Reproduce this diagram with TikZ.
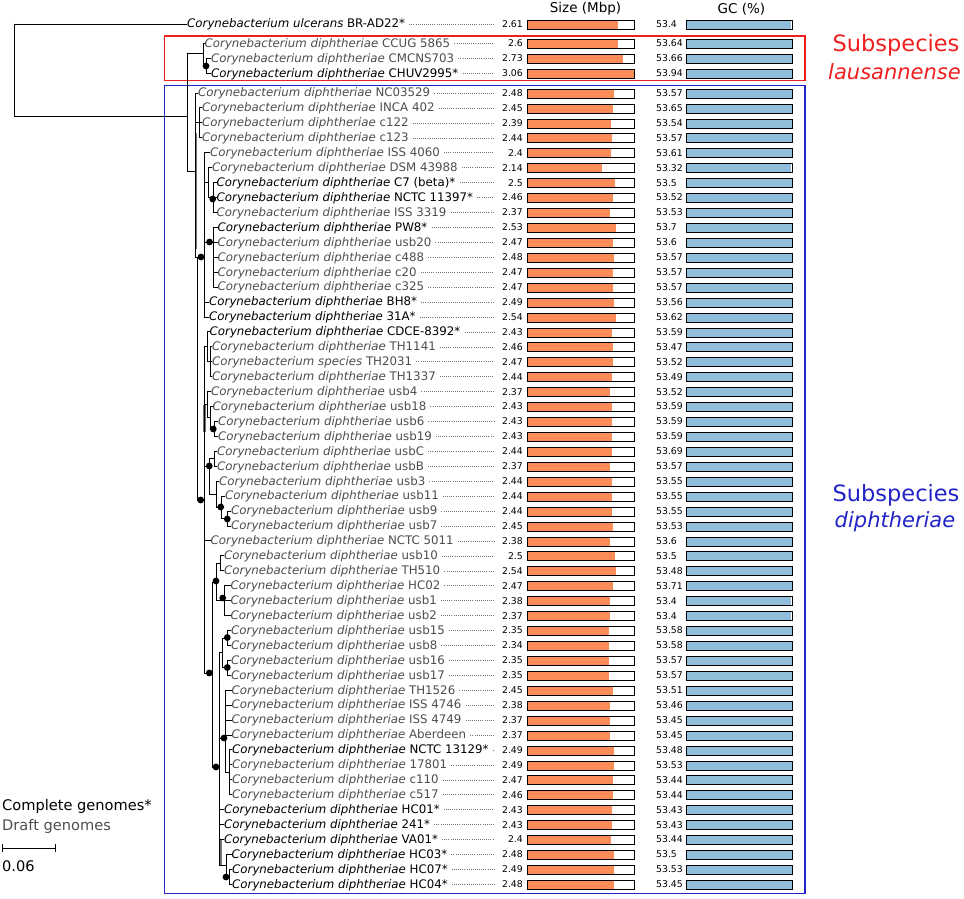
\documentclass[tikz,border=0pt]{standalone}
\usepackage{fontspec}
\setmainfont{DejaVu Sans}
\definecolor{sizeor}{HTML}{FC8D59}
\definecolor{gcbl}{HTML}{91BFDB}
\definecolor{draftc}{HTML}{4D4D4D}
\definecolor{redbox}{HTML}{F01E1E}
\definecolor{bluebox}{HTML}{2323C8}
\tikzset{
  br/.style={line width=0.9pt, line cap=rect},
  shadebr/.style={line width=2.4pt, draw=black!55},
  lab/.style={anchor=west, inner sep=0pt, text height=8.6pt, text depth=1pt, font=\fontsize{11.8}{13}\selectfont},
  num/.style={inner sep=0pt, text height=6.9pt, text depth=0pt, font=\fontsize{9.3}{11}\selectfont},
  leader/.style={draw=black!55, line width=0.6pt, dash pattern=on 0.7pt off 1.4pt},
  barframe/.style={line width=0.8pt, draw=black},
  head/.style={inner sep=0pt, font=\fontsize{13.5}{15}\selectfont},
  big/.style={inner sep=0pt, font=\fontsize{22.5}{26}\selectfont},
  bigit/.style={inner sep=0pt, font=\fontsize{21}{25}\selectfont\itshape},
  legend/.style={anchor=west, inner sep=0pt, font=\fontsize{14.6}{17}\selectfont},
}
\begin{document}
\begin{tikzpicture}[x=1pt,y=-1pt]
\useasboundingbox (0,0) rectangle (964,899);

% headers
\node[head] (hsize) at (585.5,9) {Size (Mbp)};
\node[head] (hgc) at (741.5,9) {GC (\%)};

% clade boxes
\draw[redbox, line width=1.5pt] (164.5,36) rectangle (805,80.5);
\draw[bluebox, line width=1.5pt] (164.5,85.5) rectangle (805,893.5);
\node[big, text=redbox] (sub1) at (896,45) {Subspecies};
\node[bigit, text=redbox] (sub1b) at (894.5,72) {lausannense};
\node[big, text=bluebox] (sub2) at (896,495) {Subspecies};
\node[bigit, text=bluebox] (sub2b) at (895,522) {diphtheriae};

% leaves, leaders and bars
\foreach \n/\y/\lx/\spc/\stn/\cm/\s/\g in {
u0/24/187/ulcerans/BR-AD22*/1/2.61/53.4,
r1/43.5/204.5/diphtheriae/CCUG 5865/0/2.6/53.64,
r2/58.5/211/diphtheriae/CMCNS703/0/2.73/53.66,
r3/73.3/211/diphtheriae/CHUV2995*/1/3.06/53.94,
b1/93.0/198/diphtheriae/NC03529/0/2.48/53.57,
b2/107.9/202/diphtheriae/INCA 402/0/2.45/53.65,
b3/122.9/202/diphtheriae/c122/0/2.39/53.54,
b4/137.8/202/diphtheriae/c123/0/2.44/53.57,
b5/152.7/210/diphtheriae/ISS 4060/0/2.4/53.61,
b6/167.7/212/diphtheriae/DSM 43988/0/2.14/53.32,
b7/182.6/216.5/diphtheriae/{C7 (beta)*}/1/2.5/53.5,
b8/197.5/216.5/diphtheriae/NCTC 11397*/1/2.46/53.52,
b9/212.4/216.5/diphtheriae/ISS 3319/0/2.37/53.53,
b10/227.4/217.5/diphtheriae/PW8*/1/2.53/53.7,
b11/242.3/217.5/diphtheriae/usb20/0/2.47/53.6,
b12/257.2/217.5/diphtheriae/c488/0/2.48/53.57,
b13/272.2/217.5/diphtheriae/c20/0/2.47/53.57,
b14/287.1/217.5/diphtheriae/c325/0/2.47/53.57,
b15/302.0/209/diphtheriae/BH8*/1/2.49/53.56,
b16/317.0/209/diphtheriae/31A*/1/2.54/53.62,
b17/331.9/209.5/diphtheriae/CDCE-8392*/1/2.43/53.59,
b18/346.8/212/diphtheriae/TH1141/0/2.46/53.47,
b19/361.7/212/species/TH2031/0/2.47/53.52,
b20/376.7/212/diphtheriae/TH1337/0/2.44/53.49,
b21/391.6/211/diphtheriae/usb4/0/2.37/53.52,
b22/406.5/212.5/diphtheriae/usb18/0/2.43/53.59,
b23/421.5/218/diphtheriae/usb6/0/2.43/53.59,
b24/436.4/218/diphtheriae/usb19/0/2.43/53.59,
b25/451.3/217/diphtheriae/usbC/0/2.44/53.69,
b26/466.3/217/diphtheriae/usbB/0/2.37/53.57,
b27/481.2/219/diphtheriae/usb3/0/2.44/53.55,
b28/496.1/225/diphtheriae/usb11/0/2.44/53.55,
b29/511.0/231/diphtheriae/usb9/0/2.44/53.55,
b30/526.0/231/diphtheriae/usb7/0/2.45/53.53,
b31/540.9/210.5/diphtheriae/NCTC 5011/0/2.38/53.6,
b32/555.8/224/diphtheriae/usb10/0/2.5/53.5,
b33/570.8/224/diphtheriae/TH510/0/2.54/53.48,
b34/585.7/230.5/diphtheriae/HC02/0/2.47/53.71,
b35/600.6/230.5/diphtheriae/usb1/0/2.38/53.4,
b36/615.6/230.5/diphtheriae/usb2/0/2.37/53.4,
b37/630.5/231/diphtheriae/usb15/0/2.35/53.58,
b38/645.4/231/diphtheriae/usb8/0/2.34/53.58,
b39/660.3/231/diphtheriae/usb16/0/2.35/53.57,
b40/675.3/231/diphtheriae/usb17/0/2.35/53.57,
b41/690.2/231.5/diphtheriae/TH1526/0/2.45/53.51,
b42/705.1/231.5/diphtheriae/ISS 4746/0/2.38/53.46,
b43/720.1/231.5/diphtheriae/ISS 4749/0/2.37/53.45,
b44/735.0/231.5/diphtheriae/Aberdeen/0/2.37/53.45,
b45/749.9/232/diphtheriae/NCTC 13129*/1/2.49/53.48,
b46/764.9/232/diphtheriae/17801/0/2.49/53.53,
b47/779.8/232/diphtheriae/c110/0/2.47/53.44,
b48/794.7/232/diphtheriae/c517/0/2.46/53.44,
b49/809.6/224/diphtheriae/HC01*/1/2.43/53.43,
b50/824.6/224/diphtheriae/241*/1/2.43/53.43,
b51/839.5/224/diphtheriae/VA01*/1/2.4/53.44,
b52/854.4/231.5/diphtheriae/HC03*/1/2.48/53.5,
b53/869.4/232/diphtheriae/HC07*/1/2.49/53.53,
b54/884.3/232/diphtheriae/HC04*/1/2.48/53.45}{
  \ifnum\cm=1 \def\tc{black}\else\def\tc{draftc}\fi
  \node[lab, text=\tc] (\n) at (\lx,\y) {\textit{Corynebacterium \spc} \stn};
  \draw[leader] ([xshift=4pt]\n.east) -- (494,\y);
  \node[num, anchor=east] (s\n) at (523,\y) {\s};
  \fill[sizeor] (527.5,\y-4) rectangle ({527.5+106.5*\s/3.06},\y+5);
  \draw[barframe] (527.5,\y-4) rectangle (634,\y+5);
  \node[num, anchor=west] (g\n) at (656,\y) {\g};
  \fill[gcbl] (686.5,\y-4) rectangle ({686.5+106*\g/53.94},\y+5);
  \draw[barframe] (686.5,\y-4) rectangle (792.5,\y+5);
}

% internal tree nodes
\coordinate (R) at (14,70);
\coordinate (Dn) at (187,116);
\coordinate (L) at (203,53);
\coordinate (L2) at (206,66);
\coordinate (D1) at (195,171);
\coordinate (C1) at (199,122.9);
\coordinate (D2) at (197,257);
\coordinate (F) at (204,257);
\coordinate (G) at (208,182.6);
\coordinate (G2) at (213,197.5);
\coordinate (H) at (213,242);
\coordinate (D3) at (204,500);
\coordinate (I) at (207,346.8);
\coordinate (I2) at (210,361.7);
\coordinate (J) at (207,404.7);
\coordinate (J2) at (210,417.8);
\coordinate (J3) at (214,429);
\coordinate (K) at (209,466);
\coordinate (K1) at (214,458.8);
\coordinate (K2) at (216,494.3);
\coordinate (K3) at (221,507.3);
\coordinate (K4) at (227,518.5);
\coordinate (M) at (212,673);
\coordinate (N) at (216,582);
\coordinate (N1) at (220,563.3);
\coordinate (N2) at (224,600.6);
\coordinate (O) at (219,767);
\coordinate (P) at (222,652.9);
\coordinate (P1) at (227,638);
\coordinate (P2) at (227,667.8);
\coordinate (Q) at (225,738);
\coordinate (Q2) at (229,772.3);
\coordinate (Rr) at (226,865.6);
\coordinate (Rr2) at (229,876.9);

% shaded overlapping branches
\draw[shadebr] (195.8,133) -- (195.8,249);
\draw[shadebr] (204.6,405) -- (204.6,432);
\draw[shadebr] (220.6,840) -- (220.6,866);

% horizontal branches (parent -> child)
\foreach \p/\q in {R/u0.west, R/Dn, Dn/L, Dn/D1, L/r1.west, L/L2, L2/r2.west, L2/r3.west,
  D1/b1.west, D1/C1, D1/D2, C1/b2.west, C1/b3.west, C1/b4.west,
  D2/F, D2/D3, F/b5.west, F/G, F/H, F/b15.west, F/b16.west,
  G/b6.west, G/G2, G2/b7.west, G2/b8.west, G2/b9.west,
  H/b10.west, H/b11.west, H/b12.west, H/b13.west, H/b14.west,
  D3/I, D3/J, D3/K, D3/b31.west, D3/M,
  I/b17.west, I/I2, I2/b18.west, I2/b19.west, I2/b20.west,
  J/b21.west, J/J2, J2/b22.west, J2/J3, J3/b23.west, J3/b24.west,
  K/K1, K/K2, K1/b25.west, K1/b26.west, K2/b27.west, K2/K3,
  K3/b28.west, K3/K4, K4/b29.west, K4/b30.west,
  M/N, M/O, N/N1, N/N2, N1/b32.west, N1/b33.west,
  N2/b34.west, N2/b35.west, N2/b36.west,
  O/P, O/Q, O/b49.west, O/b50.west, O/b51.west, O/Rr,
  P/P1, P/P2, P1/b37.west, P1/b38.west, P2/b39.west, P2/b40.west,
  Q/b41.west, Q/b42.west, Q/b43.west, Q/b44.west, Q/Q2,
  Q2/b45.west, Q2/b46.west, Q2/b47.west, Q2/b48.west,
  Rr/b52.west, Rr/Rr2, Rr2/b53.west, Rr2/b54.west}
  \draw[br] (\p |- \q) -- (\q);

% vertical branches (node spans)
\foreach \p/\a/\b in {R/u0.west/Dn, Dn/L/D1, L/r1.west/L2, L2/r2.west/r3.west,
  D1/b1.west/D2, C1/b2.west/b4.west, D2/F/D3, F/b5.west/b16.west,
  G/b6.west/G2, G2/b7.west/b9.west, H/b10.west/b14.west, D3/I/M,
  I/b17.west/I2, I2/b18.west/b20.west, J/b21.west/J2, J2/b22.west/J3,
  J3/b23.west/b24.west, K/K1/K2, K1/b25.west/b26.west, K2/b27.west/K3,
  K3/b28.west/K4, K4/b29.west/b30.west, M/N/O, N/N1/N2,
  N1/b32.west/b33.west, N2/b34.west/b36.west, O/P/Rr, P/P1/P2,
  P1/b37.west/b38.west, P2/b39.west/b40.west, Q/b41.west/Q2,
  Q2/b45.west/b48.west, Rr/b52.west/Rr2, Rr2/b53.west/b54.west}
  \draw[br] (\p |- \a) -- (\p |- \b);

% support dots
\foreach \dx/\dy in {206/66, 212.7/199, 209.5/242, 201/257, 213.3/429, 209.3/466,
  220.7/507, 227.3/519, 200.7/500, 209.3/673, 216/581, 222.7/598, 216/767,
  227.3/637.5, 227.3/667.5, 224/738, 226/877}
  \fill (\dx,\dy) circle (3.4pt);

% legend
\node[legend] (lc) at (2,806) {Complete genomes*};
\node[legend, text=draftc] (ld) at (2,826) {Draft genomes};
\draw[line width=0.9pt] (2,844) -- (2,852) (2,848) -- (55,848) (55,844) -- (55,852);
\node[legend] (lsc) at (2,866) {0.06};
\end{tikzpicture}
\end{document}
